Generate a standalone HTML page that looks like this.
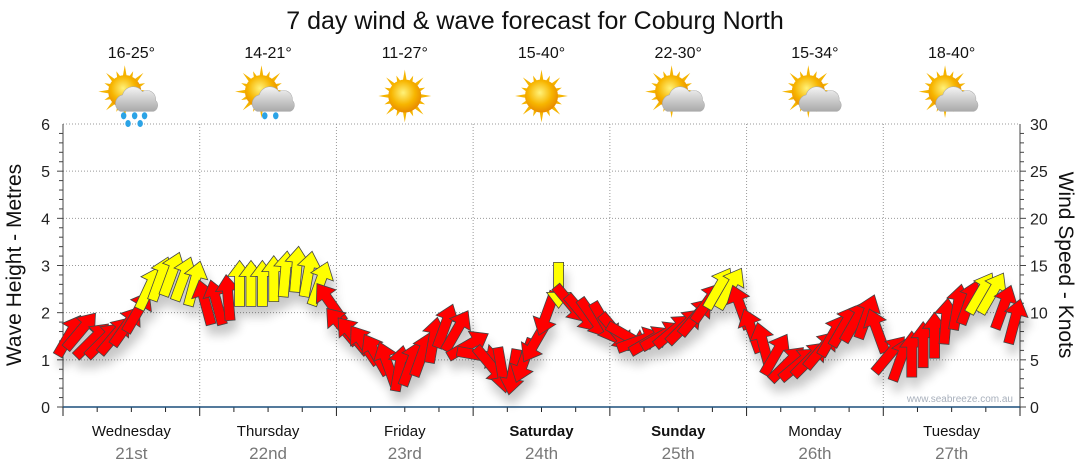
<!DOCTYPE html>
<html><head><meta charset="utf-8"><style>
body{margin:0;background:#fff;}
svg{display:block;font-family:"Liberation Sans","DejaVu Sans",sans-serif;}
</style></head><body>
<svg id="chart" width="1080" height="475" viewBox="0 0 1080 475">
<defs>
<filter id="sh" x="-50%" y="-50%" width="200%" height="200%"><feGaussianBlur in="SourceAlpha" stdDeviation="5"/><feOffset dx="3" dy="10"/><feComponentTransfer><feFuncA type="linear" slope="0.22"/></feComponentTransfer><feMerge><feMergeNode/><feMergeNode in="SourceGraphic"/></feMerge></filter>
<radialGradient id="sun" cx="0.45" cy="0.4" r="0.6"><stop offset="0" stop-color="#fff27a"/><stop offset="0.6" stop-color="#f7b500"/><stop offset="1" stop-color="#e88a00"/></radialGradient>
<linearGradient id="cloud" x1="0" y1="0" x2="0" y2="1"><stop offset="0" stop-color="#f4f4f4"/><stop offset="1" stop-color="#a9a9a9"/></linearGradient>
</defs>
<text x="535" y="29" text-anchor="middle" font-size="25" fill="#111">7 day wind &amp; wave forecast for Coburg North</text>
<g id="grid"></g><g id="axes"></g><g id="icons"></g><g id="arrows" filter="url(#sh)"></g>
<text x="1013" y="402" text-anchor="end" font-size="10" fill="#a8b0bc">www.seabreeze.com.au</text>
<text transform="translate(21,265) rotate(-90)" text-anchor="middle" font-size="21" fill="#111">Wave Height - Metres</text>
<text transform="translate(1059,265) rotate(90)" text-anchor="middle" font-size="21" fill="#111">Wind Speed - Knots</text>
</svg>
<script>
const days=["Wednesday","Thursday","Friday","Saturday","Sunday","Monday","Tuesday"];
const dates=["21st","22nd","23rd","24th","25th","26th","27th"];
const temps=["16-25°","14-21°","11-27°","15-40°","22-30°","15-34°","18-40°"];
const icons=["rain","rain","sun","sun","cloud","cloud","cloud"];
const waveTicks=[0,1,2,3,4,5,6];
const windTicks=[0,5,10,15,20,25,30];
const windSpeed=[7.5,8,7,7,7.5,8.5,10,12.5,13.5,14,13.5,13,
11,11,11.5,13,13,13,13.5,14,14.5,14,13,11,
8.5,7.5,6.5,5.5,4.5,4,4.5,5.5,7,8.5,8,6.5,
5.5,4.5,4,3.8,5,7,10,13,11,10,9.5,9,
8,7.5,7,7,7.5,8,8.5,9.5,11,12.5,12.5,10.5,
8,6.5,5.5,4.5,4.5,5,6,7.5,8.5,9,9.5,8,
5.5,5,5.5,6.5,7.5,9,10.5,11,12,12,10.5,9];
const windDir=[30,40,45,45,40,35,30,25,20,20,20,15,
-15,-15,-5,0,0,0,0,5,5,10,20,-35,
-40,-40,-35,-30,-20,10,20,20,10,20,30,60,
100,140,170,190,200,210,200,180,140,140,145,150,
140,120,70,60,60,50,45,40,35,30,30,-20,
-20,-15,30,45,50,45,40,30,30,30,20,-20,
40,20,0,0,0,5,10,20,30,30,20,15];
const NS="http://www.w3.org/2000/svg";
const X0=63,X1=1020,Y0=407,Y6=124;
const dayW=(X1-X0)/7;
const xH=h=>X0+h/168*(X1-X0);
const yM=m=>Y0-m/6*(Y0-Y6);
const yK=k=>Y0-k/30*(Y0-Y6);
function mk(tag,attrs,parent){const e=document.createElementNS(NS,tag);for(const k in attrs)e.setAttribute(k,attrs[k]);parent.appendChild(e);return e;}
const grid=document.getElementById('grid'),axes=document.getElementById('axes'),ic=document.getElementById('icons'),ar=document.getElementById('arrows');
waveTicks.forEach(t=>{
 if(t>0){const l=mk('line',{x1:X0,x2:X1,y1:yM(t),y2:yM(t),stroke:'#999','stroke-dasharray':'1,2'},grid);
 }
 const tx=mk('text',{x:50,y:yM(t)+6,'text-anchor':'end','font-size':16,fill:'#222'},axes);tx.textContent=t;
 
 for(let j=0;j<5&&t<6;j++){mk('line',{x1:X0-(j==0?6:4),x2:X0,y1:yM(t+j*0.2),y2:yM(t+j*0.2),stroke:'#444'},axes);}
});
mk('line',{x1:X0,x2:X0,y1:Y6,y2:Y0,stroke:'#444'},axes);
windTicks.forEach(t=>{
 const tx=mk('text',{x:1030,y:yK(t)+6,'font-size':16,fill:'#222'},axes);tx.textContent=t;
 
 for(let j=0;j<5&&t<30;j++){mk('line',{x1:X1,x2:X1+(j==0?6:4),y1:yK(t+j),y2:yK(t+j),stroke:'#444'},axes);}
});
mk('line',{x1:X1,x2:X1,y1:Y6,y2:Y0,stroke:'#444'},axes);
for(let d=0;d<=7;d++){
 const x=X0+d*dayW;
 if(d>0&&d<7){const l=mk('line',{x1:x,x2:x,y1:Y6,y2:Y0,stroke:'#999','stroke-dasharray':'1,2'},grid);
 }
 mk('line',{x1:x,x2:x,y1:Y0,y2:Y0+9,stroke:'#222'},axes);
 if(d<7)for(let j=1;j<4;j++){const xx=x+j*dayW/4;mk('line',{x1:xx,x2:xx,y1:Y0,y2:Y0+5,stroke:'#222'},axes);}
}
mk('line',{x1:X0,x2:X1,y1:Y0,y2:Y0,stroke:'#1c4f7c','stroke-width':1.5},axes);
days.forEach((d,i)=>{
 const cx=X0+(i+0.5)*dayW;
 const t=mk('text',{x:cx,y:436,'text-anchor':'middle','font-size':15,fill:'#111','font-weight':(i==3||i==4)?'bold':'normal'},axes);t.textContent=d;
 
 const dt=mk('text',{x:cx,y:459,'text-anchor':'middle','font-size':17,fill:'#777'},axes);dt.textContent=dates[i];
 
 const tp=mk('text',{x:cx,y:58,'text-anchor':'middle','font-size':16,fill:'#111'},ic);tp.textContent=temps[i];
 
 const g=mk('g',{transform:`translate(${cx},96) scale(1.1)`},ic);
 
 const sx=icons[i]=='sun'?0:-6, sy=icons[i]=='sun'?0:-4;
 for(let r=0;r<16;r++){const a=r*Math.PI/8;mk('polygon',{points:`${sx+Math.cos(a-0.15)*13},${sy+Math.sin(a-0.15)*13} ${sx+Math.cos(a)*(r%2?20:24)},${sy+Math.sin(a)*(r%2?20:24)} ${sx+Math.cos(a+0.15)*13},${sy+Math.sin(a+0.15)*13}`,fill:'#f5b400'},g);}
 mk('circle',{cx:sx,cy:sy,r:15,fill:'url(#sun)'},g);
 if(icons[i]!='sun'){
  mk('path',{d:'M-10,14 a8,8 0 0 1 2,-15 a10,10 0 0 1 18,-3 a8,8 0 0 1 12,8 a6,6 0 0 1 -2,10 z',fill:'url(#cloud)',stroke:'#aaa','stroke-width':0.5},g);
  if(icons[i]=='rain'){[[-7,18],[3,18],[12,18],[-3,25],[8,25]].slice(0,i==0?5:2).forEach(p=>mk('ellipse',{cx:p[0]+(i==1?4:0),cy:p[1],rx:2.5,ry:3.2,fill:'#2ba3e6'},g));}
 }
});
windSpeed.forEach((k,i)=>{
 const x=xH(i*2+1),y=yK(k);
 const col=k>=12?'#ffff00':'#ff0000';
 const p=mk('path',{d:'M-5,22 L-5,-8 L-12,-8 L0,-24 L12,-8 L5,-8 L5,22 Z',fill:col,stroke:'#444','stroke-width':0.8,transform:`translate(${x},${y}) rotate(${windDir[i]})`},ar);
 
 
});
</script>
</body></html>
